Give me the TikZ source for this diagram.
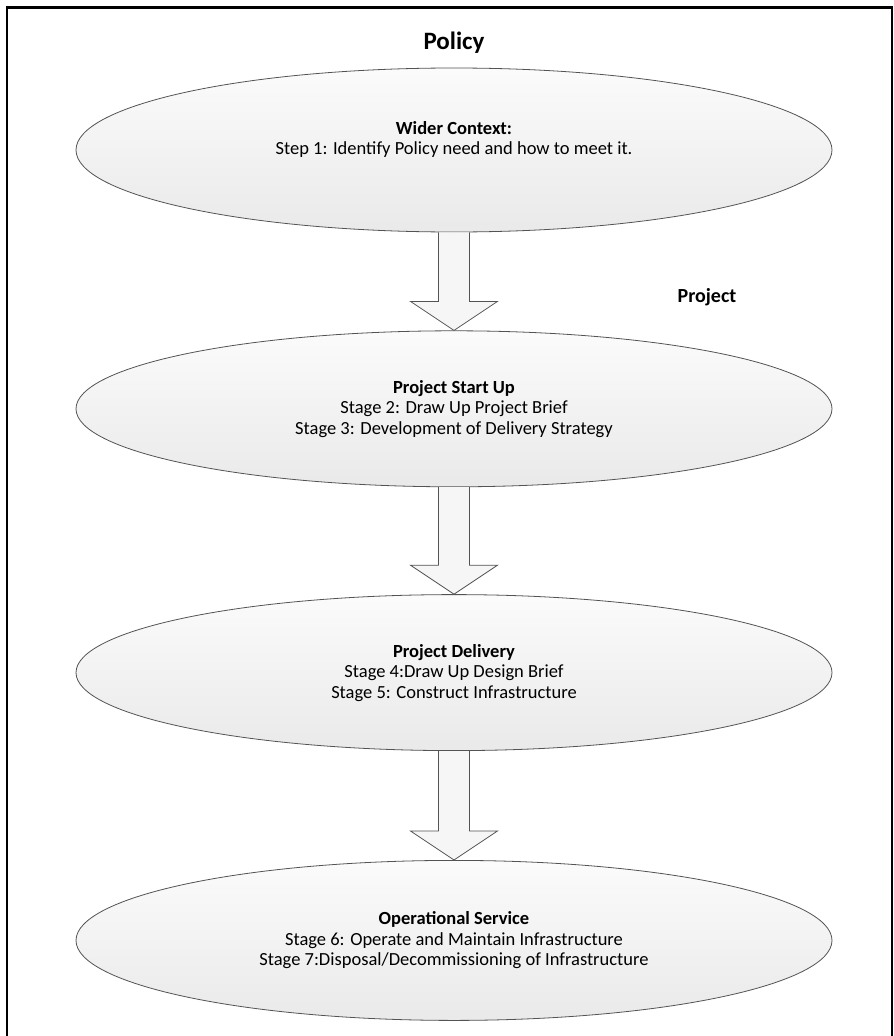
\documentclass[tikz,border=0pt]{standalone}
\usepackage{fontspec}
\setmainfont{Carlito}
\usetikzlibrary{shapes.geometric,positioning,calc}

\tikzset{
  stagebox/.style={ellipse, draw=gray!65!black, line width=0.8pt,
    top color=gray!3, bottom color=gray!17, minimum width=756pt,
    minimum height=160pt, inner sep=0pt, align=center,
    font=\fontsize{18.5}{20.5}\selectfont},
  blockarrow/.style={draw=gray!65!black, line width=0.8pt, fill=gray!7,
    line join=miter}
}

\begin{document}
\begin{tikzpicture}[x=1pt,y=-1pt]
    \useasboundingbox (0,0) rectangle (894,1036);
    % frame
    \draw [black, line width=2.6pt] (7,1045) -- (7,7.5) -- (892,7.5) -- (892,1045);

    \node (policy) at (454,43) {\fontsize{25}{28}\selectfont\bfseries Policy};
    \node (project) at (707,297) {\fontsize{20}{23}\selectfont\bfseries Project};

    % stages
    \node [stagebox, minimum height=164pt] (context) at (454,150)
        {\textbf{Wider Context:}\\Step 1: Identify Policy need and how to meet it.\\[3pt]};
    \node [stagebox, minimum height=156pt, below=98pt of context] (startup)
        {\textbf{Project Start Up}\\Stage 2: Draw Up Project Brief\\Stage 3: Development of Delivery Strategy};
    \node [stagebox, minimum height=156pt, below=107pt of startup] (delivery)
        {\textbf{Project Delivery}\\Stage 4:Draw Up Design Brief\\Stage 5: Construct Infrastructure};
    \node [stagebox, below=109pt of delivery] (service)
        {\textbf{Operational Service}\\Stage 6: Operate and Maintain Infrastructure\\Stage 7:Disposal/Decommissioning of Infrastructure};

    % block arrows between the stages
    \foreach \from/\to in {context/startup, startup/delivery, delivery/service}
      \path [blockarrow] let \p1=(\from.south), \p2=(\to.north) in
        (\x1-15.5pt,\y1) -- (\x1-15.5pt,\y2+29pt) -- (\x1-43.5pt,\y2+29pt)
        -- (\x2,\y2) -- (\x1+43.5pt,\y2+29pt) -- (\x1+15.5pt,\y2+29pt)
        -- (\x1+15.5pt,\y1);
\end{tikzpicture}
\end{document}
